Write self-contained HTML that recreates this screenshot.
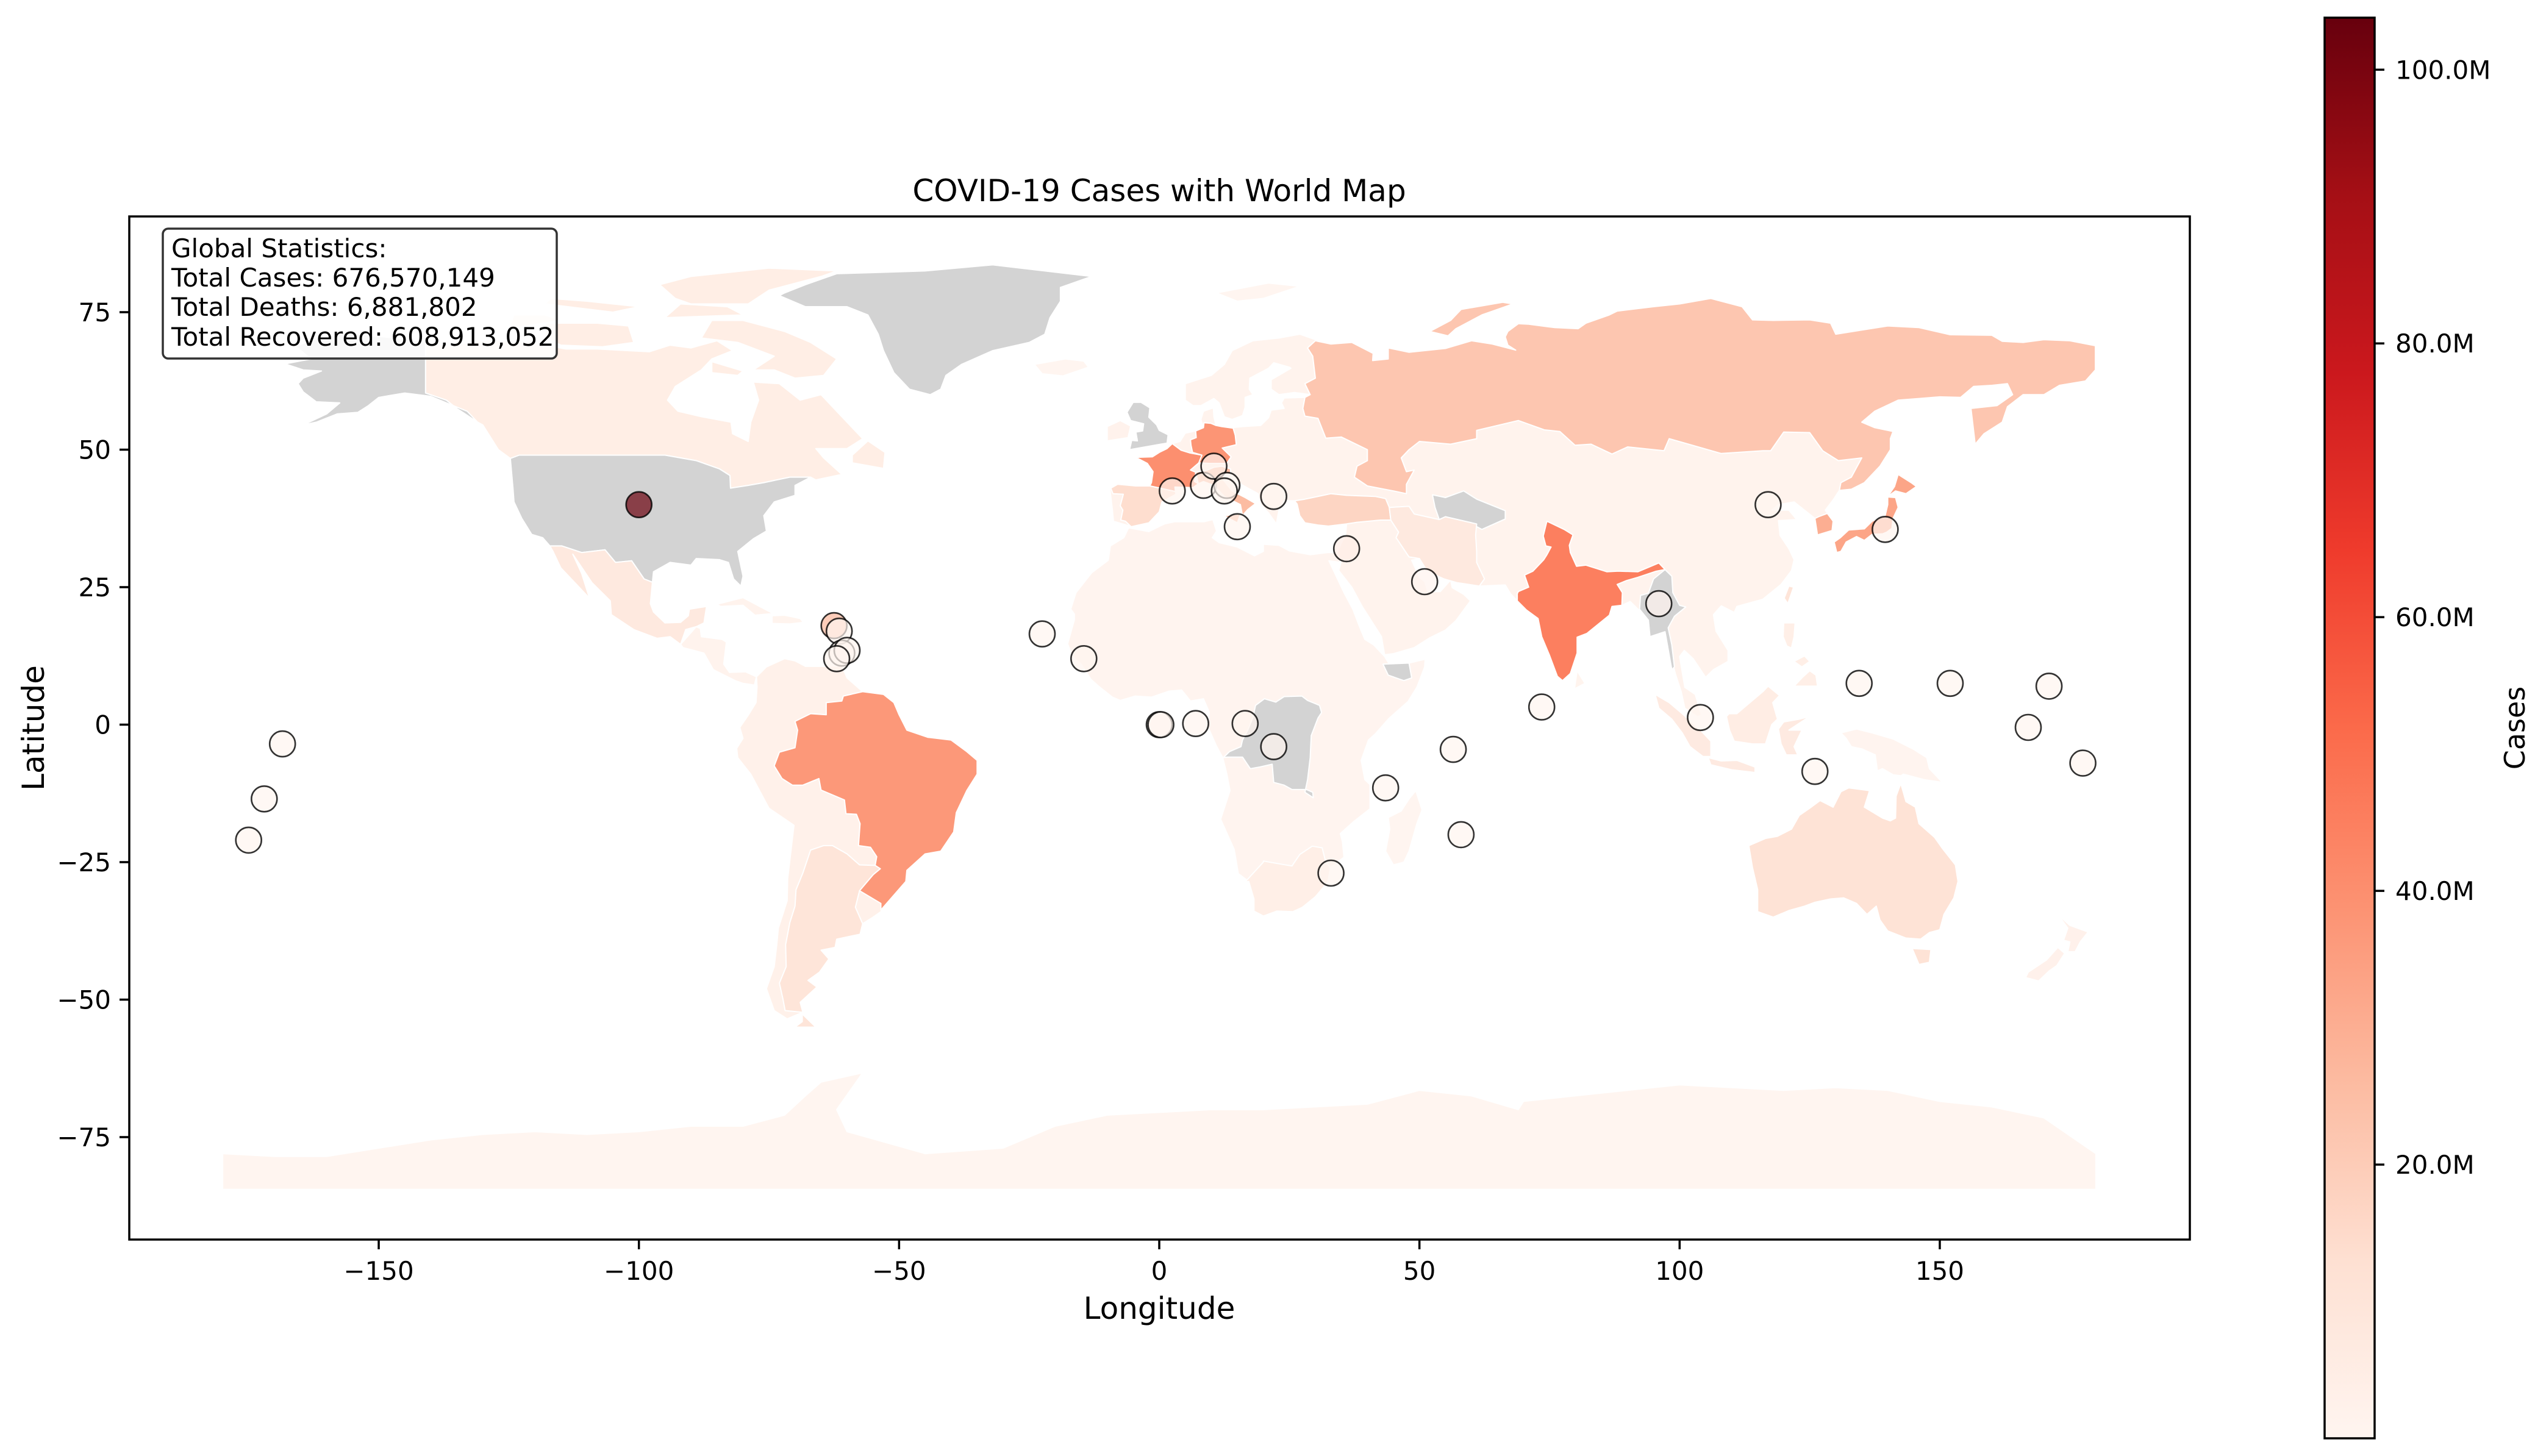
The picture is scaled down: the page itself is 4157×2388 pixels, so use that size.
<!DOCTYPE html>
<html><head><meta charset="utf-8">
<style>
html,body{margin:0;padding:0;background:#fff;}
svg{display:block;font-family:"DejaVu Sans","Liberation Sans",sans-serif;}
</style></head>
<body>
<svg id="chart" xmlns="http://www.w3.org/2000/svg" width="4157" height="2388" viewBox="0 0 4157 2388">
<rect x="0" y="0" width="4157" height="2388" fill="#fff"/>
<text x="1901" y="330" font-size="50" text-anchor="middle">COVID-19 Cases with World Map</text>
<defs>
<clipPath id="axclip"><rect x="212" y="355" width="3379" height="1678"/></clipPath>
<linearGradient id="cbgrad" x1="0" y1="1" x2="0" y2="0">
<stop offset="0" stop-color="#fff5f0"/><stop offset="0.125" stop-color="#fee0d2"/><stop offset="0.25" stop-color="#fcbba1"/><stop offset="0.375" stop-color="#fc9272"/><stop offset="0.5" stop-color="#fb6a4a"/><stop offset="0.625" stop-color="#ef3b2c"/><stop offset="0.75" stop-color="#cb181d"/><stop offset="0.875" stop-color="#a50f15"/><stop offset="1" stop-color="#67000d"/>
</linearGradient>
</defs>
<g id="map" clip-path="url(#axclip)"></g>
<g id="points" clip-path="url(#axclip)"></g>
<rect x="212" y="355" width="3379" height="1678" fill="none" stroke="#000" stroke-width="3.5"/>
<g id="axes"></g>
<g>
<rect x="267" y="375" width="646" height="213" rx="9" fill="#fff" fill-opacity="0.85" stroke="#333" stroke-width="3.5"/>
<text x="281" y="422" font-size="42">Global Statistics:</text>
<text x="281" y="470" font-size="42">Total Cases: 676,570,149</text>
<text x="281" y="518" font-size="42">Total Deaths: 6,881,802</text>
<text x="281" y="567" font-size="42">Total Recovered: 608,913,052</text>
</g>
<g id="colorbar">
<rect x="3812" y="29" width="82" height="2330" fill="url(#cbgrad)" stroke="#000" stroke-width="3.5"/>
</g>
<text x="0" y="0" font-size="46" text-anchor="middle" transform="translate(4140,1194) rotate(-90)">Cases</text>
<text x="1901" y="2163" font-size="50" text-anchor="middle">Longitude</text>
<text x="0" y="0" font-size="50" text-anchor="middle" transform="translate(72,1194) rotate(-90)">Latitude</text>
</svg>
<script>
// ---- data ----
const countryNames = ["Antarctica","Africa-other","DR Congo","South Africa","Somaliland","Madagascar","Eurasia-other","Russia","Turkmenistan","Turkey","Iran","India","Myanmar","Japan","Hokkaido","South Korea","France","Germany","Spain","Italy","Sicily","United Kingdom","Ireland","Iceland","Svalbard","Novaya Zemlya","Sri Lanka","Canada","Baffin Island","Victoria Island","Ellesmere Island","Banks Island","Devon Island","Melville Island","Southampton Island","Newfoundland","United States","Alaska","Greenland","Mexico","Central America","Cuba","Hispaniola","South America-other","Brazil","Argentina","Tierra del Fuego","Sumatra","Java","Borneo","Sulawesi","New Guinea","Luzon","Mindanao","Visayas","Taiwan","Australia","Tasmania","NZ North","NZ South"];
const countryCases = [0.01,0.5,null,4.0,null,0.07,1.5,22.0,null,17.0,7.5,45.0,null,33.0,33.0,30.0,40.0,38.0,13.8,25.6,25.6,null,1.7,0.2,0.01,22.0,0.67,4.6,4.6,4.6,4.6,4.6,4.6,4.6,4.6,4.6,null,null,null,7.5,1.2,1.1,0.9,2.5,37.0,10.0,10.0,6.7,6.7,5.0,6.7,0.5,4.0,4.0,4.0,9.9,11.4,11.4,2.2,2.2];
const pointLon = [-100,-62.5,-61.5,-61,-60,-62,-22.5,-14.5,0,0.3,7,16.5,22,2.5,8.5,10.5,13,12.5,15,22,36,51,56.5,43.5,58,33,73.5,96,104,117,139.5,134.5,126,152,171,167,177.5,-175,-172,-168.5];
const pointLat = [40,18,17,13,13.5,12,16.5,12,0,0,0.2,0.2,-4,42.5,43.5,47,43.5,42.5,36,41.5,32,26,-4.5,-11.5,-20,-27,3.2,22,1.3,40,35.5,7.5,-8.5,7.5,7,-0.5,-7,-21,-13.5,-3.5];
const pointCases = [103.4,27.0,0.01,0.05,0.1,0.04,0.06,0.04,0.01,0.01,0.02,0.03,0.05,0.05,0.03,0.03,0.02,0.02,0.12,0.3,4.8,0.6,0.05,0.01,0.3,0.07,0.19,0.6,0.3,0.2,0.1,0.01,0.02,0.03,0.01,0.01,0.02,0.02,0.02,0.01];
const xTicks = [-150,-100,-50,0,50,100,150];
const yTicks = [-75,-50,-25,0,25,50,75];
const cbTicks = [20,40,60,80,100];
const vMin = 0, vMax = 103.8;

// ---- geometry (lon/lat outlines) ----
const shapes = [
[[-180,-84.5],[180,-84.5],[180,-78],[170,-71.5],[165,-70.5],[160,-69.5],[150,-68.5],[140,-66.5],[130,-66],[120,-66.5],[110,-66],[100,-65.5],[90,-66.5],[80,-67.5],[70,-68.5],[69,-70],[60,-67.5],[50,-66.5],[40,-69],[30,-69.5],[20,-70],[10,-70],[0,-70.5],[-10,-71],[-20,-73],[-30,-77],[-45,-78],[-60,-74],[-62,-70],[-57,-63.3],[-65,-65],[-68,-67.5],[-72,-71],[-80,-73],[-90,-73],[-100,-74],[-110,-74.5],[-120,-74],[-130,-74.5],[-140,-75.5],[-150,-77],[-160,-78.5],[-170,-78.5],[-180,-78]],
[[-17,21],[-16,24],[-13,27.6],[-9.8,29.9],[-9.4,32.5],[-6.8,34],[-5.9,35.8],[-2,35.1],[1,36.5],[3,36.9],[8.6,36.9],[10.3,37.3],[11,35.2],[10.2,34],[11.5,33.1],[15,32.3],[18.3,30.7],[20,31.5],[20,32.8],[23,32.6],[25,31.6],[29,30.9],[32.3,31.3],[34.2,31.3],[34.9,29.5],[32.6,29.8],[35.5,24],[37.2,21],[38.4,18],[39.5,15.5],[41.2,14.5],[43.3,12.4],[44.6,10.4],[48,11.2],[51.1,11.9],[51,10.5],[49.5,6.8],[47.8,4.2],[44.1,1.1],[41.5,-1.7],[40.2,-2.8],[38.8,-6.5],[39.5,-10],[40.5,-10.9],[40.5,-15.3],[37.4,-17.6],[34.8,-19.8],[35.2,-21.3],[35.5,-24.1],[32.9,-26],[32.4,-28.6],[30,-31.3],[27.5,-33.2],[25.7,-34],[22.6,-33.9],[20,-34.8],[18.2,-33.9],[18.2,-31.7],[17.2,-28.5],[15.2,-27.1],[14.4,-22.7],[11.8,-17.2],[13.6,-12],[13,-9],[12.2,-6],[11,-3.9],[9.4,-0.5],[9.6,2.3],[8.5,4.7],[6,4.3],[4.3,6.3],[1.9,6.1],[-1.5,5],[-4.6,5.2],[-7.5,4.4],[-9,5],[-11.4,6.8],[-13.1,8.2],[-15,11],[-16.7,12.4],[-17.6,14.7],[-16.3,19.1],[-16.3,20.1]],
[[12.3,-6],[13,-5.9],[16,-5.9],[17.5,-8],[19.3,-7.7],[21.7,-7.2],[22,-10.5],[24,-11],[25.5,-11.8],[28.3,-11.8],[29.5,-12.3],[29.6,-13.3],[28,-12.3],[28.5,-10],[29,-6],[29.2,-2],[30.5,1.2],[31.2,2.2],[30.8,3.5],[28.5,4.4],[27.4,5.2],[24,5.1],[22.4,4.1],[20.2,4.7],[18.5,3.5],[18,1.3],[17,-1],[16,-2.8],[15.7,-4],[13.5,-4.9]],
[[16.5,-28.6],[20,-25],[20,-24.8],[23,-25.3],[25.5,-25.7],[27,-23.6],[29.4,-22.1],[31.3,-22.4],[32,-25],[32.9,-26],[32.4,-28.6],[30,-31.3],[27.5,-33.2],[25.7,-34],[22.6,-33.9],[20,-34.8],[18.2,-33.9],[18.2,-31.7],[17.2,-28.5]],
[[43,11],[48,11.2],[48.5,8.5],[47,8],[44,9]],
[[49.3,-12],[50.5,-15.5],[49.5,-18],[48,-23],[47,-25],[45,-25.5],[43.5,-23],[44.3,-19],[44,-16.9],[46.5,-15.7],[48,-13.5]],
[[-9.5,43],[-9,39],[-8.8,37],[-6,36.2],[-2,36.7],[0,38.7],[0.5,40.5],[3.2,41.9],[3,43.2],[6.5,43.1],[8.5,44.2],[10.5,43.5],[12.5,41.5],[15.6,40],[16,38],[17,39.1],[18.5,40.2],[16.5,41.3],[14,42.5],[12.3,44.5],[12.5,45.6],[13.7,45.5],[15.5,43.8],[19,42],[19.5,40],[21,38.5],[22.5,36.5],[23,39],[24,40.7],[26,40.7],[26.5,40.1],[27,38],[28,36.7],[30.5,36.3],[36,36.5],[35.8,34.5],[35,33],[34.2,31.3],[34.9,29.5],[34.5,28],[37,25],[39,21.5],[42.7,16],[43.3,12.7],[45,12.9],[49,14],[52,15.8],[55,17.2],[57,18.9],[59.8,22.5],[58.5,23.7],[56.3,24.9],[56,26.3],[54,24.2],[51.6,24.2],[51,26],[50,26.8],[48.5,29.9],[50,30.2],[51.5,27.9],[54.7,26.5],[57.3,25.8],[61.5,25.2],[66.5,25.4],[67.5,23.8],[68.8,22.5],[70.5,20.9],[72.8,19.3],[73.5,16],[75,12.6],[76.5,8.8],[77.5,8],[79,9.3],[80.3,13],[80.3,15.9],[82.2,16.6],[86.5,19.9],[87,21.5],[88.9,21.7],[90.5,22.4],[92,21],[94,19],[94.3,16],[97.2,16.9],[98,13.5],[99.2,9.2],[100.3,6],[101,3],[103.5,1.4],[104.2,1.8],[103,5.5],[101,6.8],[100,12.4],[100.9,13.5],[102.6,12],[105,8.6],[106.5,10],[109.3,11.5],[109.3,13.5],[107,17],[106.5,20],[108,21.6],[110.5,20.4],[111,21.5],[116,22.8],[119.5,25.5],[121.5,28],[122,30],[121,32],[119.3,34.4],[119,37.1],[122.5,37.3],[121,39],[117.7,39],[119,40],[122,40.5],[126,37.5],[126.5,34.5],[129.3,35.3],[129.5,37],[128,39],[129.6,41],[130.7,42.6],[133,42.8],[135.5,44],[138.5,47],[140.5,50],[140.5,52],[141,53.3],[137.5,54],[135,55],[137.5,57],[142,59],[146,59.3],[150,59.6],[154,59.5],[156.5,61.5],[160,61.7],[163,62],[164,60],[161,58],[156,57.5],[156.8,51],[158.5,52.9],[162,55],[163,57.8],[166,60],[170,60],[173,61.7],[178,62.5],[179.9,64.5],[179.9,68.9],[175,69.8],[170,70],[166,69.5],[162,69.7],[160,70.8],[152,70.9],[146,72.2],[140,72.5],[130,71],[129,73],[125,73.6],[118,73.5],[114,73.6],[112,76],[106,77.5],[100,76.5],[95,76],[88,75.2],[86.5,74.5],[82,73],[80.5,72],[76,72.2],[71,72.8],[69,72.9],[67,71.5],[66.5,70.5],[67,69],[68.5,68.1],[64,69.2],[60,69.8],[55,68.4],[48,67.7],[44,68.5],[44,66.5],[41,66.2],[41.1,67.5],[37,69.5],[33,69.2],[30,70],[27,71],[23,70.3],[18,69.8],[14,68],[12.5,65.5],[10,63.5],[5,62],[5,59],[6.5,58],[8,58],[10.5,59.3],[11.5,58.5],[12.5,56],[14,55.5],[16,56.2],[16.5,57.7],[16.5,59.5],[18,60],[17.3,61],[17.4,63],[21,64.8],[22,65.8],[25,65],[25.3,64.8],[21.5,62.7],[21.5,61],[23,60],[26,60.4],[29,60],[28,59.5],[24,59.4],[23.5,58.5],[24,57.5],[21.5,57.2],[21,55.8],[19.5,54.4],[16,54.2],[14,54],[12,54.2],[10.9,54.4],[10.5,56],[10.4,57.6],[8.5,57],[8,55.5],[8.5,54],[7,53.4],[5,53],[4,51.5],[2.5,51.1],[1.5,50.2],[0,49.5],[-1.3,48.7],[-4.5,48.6],[-2.3,47.5],[-1.2,46],[-1.5,44],[-1.8,43.4],[-4.5,43.4],[-8,43.7]],
[[30,69.8],[33,69.2],[37,69.5],[41.1,67.5],[41,66.2],[44,66.5],[44,68.5],[48,67.7],[55,68.4],[60,69.8],[64,69.2],[68.5,68.1],[67,69],[66.5,70.5],[67,71.5],[69,72.9],[71,72.8],[76,72.2],[80.5,72],[82,73],[86.5,74.5],[88,75.2],[95,76],[100,76.5],[106,77.5],[112,76],[114,73.6],[118,73.5],[125,73.6],[129,73],[130,71],[140,72.5],[146,72.2],[152,70.9],[160,70.8],[162,69.7],[166,69.5],[170,70],[175,69.8],[179.9,68.9],[179.9,64.5],[178,62.5],[173,61.7],[170,60],[166,60],[163,57.8],[162,55],[158.5,52.9],[156.8,51],[156,57.5],[161,58],[164,60],[163,62],[160,61.7],[156.5,61.5],[154,59.5],[150,59.6],[146,59.3],[142,59],[137.5,57],[135,55],[137.5,54],[141,53.3],[140.5,52],[140.5,50],[138.5,47],[135.5,44],[133,42.8],[130.7,42.6],[131,44],[133,45],[135,48.5],[130.5,48],[127.5,49.8],[125,53.1],[120,53.2],[117.5,49.8],[116,49.8],[108,49.3],[98,52],[97,49.8],[90,50.5],[87,49.2],[83,51],[79.9,50.8],[77,53.3],[74,53.6],[69,55.3],[61,53.5],[61,52],[56,51],[50,51.5],[48,50],[46.5,48.5],[47.5,46],[49,46.3],[47.5,43.7],[47.5,42],[45,42.5],[40,43.4],[37.5,45],[38,47],[40,48],[40,50],[35,52.3],[32,52.1],[30.5,55.7],[28,56.1],[27.6,57.5],[28,59.5],[29,60],[28,62],[30,63],[29.5,67],[28.5,68.5]],
[[52.5,41.8],[55,41.3],[58.5,42.5],[61,41],[66.5,38.9],[66.5,37.4],[62,35.5],[60,36.5],[55,37.8],[53.8,37.3],[53,39.5]],
[[26,40.7],[26.5,40.1],[27,38],[28,36.7],[30.5,36.3],[32.5,36.1],[36,36.5],[38,36.8],[42.5,37.2],[44.5,37.2],[44.2,39.5],[43.5,41.1],[41.5,41.5],[36,41.7],[33,42],[29,41.2],[28,41]],
[[44.2,39.5],[44.5,37.2],[46,35],[45.5,34],[48,30.5],[50,30.2],[51.5,27.9],[54.7,26.5],[57.3,25.8],[61.5,25.2],[62.5,26.5],[61,29.5],[61,31.5],[60.8,34.5],[61,36.5],[55,37.8],[53.8,37.3],[49,38.3],[48,39.7]],
[[68.8,23.8],[68.8,22.5],[70.5,20.9],[72.8,19.3],[73.5,16],[75,12.6],[76.5,8.8],[77.5,8],[79,9.3],[80.3,13],[80.3,15.9],[82.2,16.6],[86.5,19.9],[87,21.5],[88.9,21.7],[89,24],[88,25.5],[89.8,26.2],[92,26.8],[95.5,27.9],[97.2,28.2],[96,29.4],[92,27.8],[88.2,27.9],[86,27.8],[82,29],[80.2,28.8],[79,31.3],[78.8,32.6],[79.5,34.5],[77.8,35.5],[74.5,37],[73.8,34.3],[74.3,32.5],[75.3,32.3],[74.5,30.9],[73.9,30],[71.8,27.9],[70.2,27.2],[71,25],[69,24.2]],
[[92.3,21],[92.5,23.5],[94,23.9],[95,26.5],[97.2,28.2],[98.5,27],[98.7,24],[100,21.7],[101.2,21.4],[99,19.7],[97.8,17.6],[98.5,14.5],[99,10.5],[98.5,10],[97.2,16.9],[94.3,16],[94,19]],
[[130.9,34],[132.5,35.4],[135.5,35.6],[137,37],[139.5,38],[140,40],[140,41.4],[141.5,41.3],[142,39.5],[141,37.5],[140.8,35.7],[139.8,35],[139,34.7],[137,34.6],[135.5,33.5],[134,34.2],[132,33.2],[131,31.5],[130.2,31.3],[129.7,33.2]],
[[140,41.5],[141.5,42.5],[143.5,42],[145.5,43.3],[144.5,44],[142,45.5],[141.3,43.3]],
[[126,37.5],[126.5,34.5],[129.3,35.3],[129.5,37],[128.4,38.4],[126.7,37.8]],
[[2.5,51.1],[4.2,49.9],[5.9,49.4],[8.2,49],[7.6,47.6],[6,46.3],[7,45.9],[6.8,44.2],[7.5,43.8],[6.5,43.1],[3,43.2],[3.1,42.4],[-1.8,43.4],[-1.5,44],[-1.2,46],[-2.3,47.5],[-4.5,48.6],[-1.3,48.7],[0,49.5],[1.5,50.2]],
[[6.1,50.8],[6.4,49.5],[8.2,49],[7.6,47.6],[9.6,47.5],[13,47.5],[13.8,48.7],[12.1,50.3],[14.8,50.9],[14.6,52.6],[14.2,53.9],[12,54.2],[10.9,54.4],[9.9,54.8],[8.6,54.9],[8.5,54],[7,53.4],[7.1,52.2],[6,51.8]],
[[-9.3,43],[-8,43.7],[-4.5,43.4],[-1.8,43.4],[3.1,42.4],[3.2,41.9],[0.5,40.5],[0,38.7],[-2,36.7],[-5.4,36],[-6.5,37],[-7.4,37.2],[-7,39],[-7.5,39.8],[-6.9,41.9],[-8.9,42]],
[[7.5,43.8],[8.5,44.2],[10.5,43.5],[12.5,41.5],[15.6,40],[16,38],[17,39.1],[18.5,40.2],[16.5,41.3],[14,42.5],[12.3,44.5],[12.5,45.6],[13.7,45.5],[13.7,46.5],[12,47],[10.5,46.8],[9,46.2],[7,45.9]],
[[12.4,38],[15.6,38.3],[15,36.7]],
[[-5.7,50],[1.5,51.2],[1.7,52.7],[0,53.5],[-0.5,54.5],[-2,55.9],[-1.8,57.6],[-3.5,58.6],[-5,58.6],[-6.2,56.8],[-5.5,55.3],[-3,54.7],[-3.2,53.4],[-4.5,53.2],[-4.2,51.6],[-5.3,51.7]],
[[-6,52.2],[-10,51.6],[-10,54.2],[-7.5,55.3],[-5.5,54.3]],
[[-24,65.5],[-18,66.5],[-14.5,66.1],[-13.6,65],[-18.5,63.4],[-22.5,63.8]],
[[11,78.5],[21,80.3],[27,79.7],[20,77.5],[15,77]],
[[52,71.5],[56,73.5],[58,75.5],[66,76.8],[68,76.5],[62,74.5],[57,72],[55.5,70.7]],
[[79.8,6.5],[81.8,7.5],[80.3,9.8]],
[[-141,69.6],[-136,68.9],[-129,70],[-121,69.5],[-114,68.3],[-108,68.3],[-98,67.8],[-94,69],[-90,68.5],[-85,69.8],[-82,68],[-86,66.5],[-88,64.5],[-93,61.5],[-94.5,59],[-92.5,57],[-88,56],[-82.3,55],[-82,52.9],[-79,51.5],[-78.5,55],[-77,59],[-78,62.3],[-73,62],[-69,59],[-65,60],[-61.5,56.5],[-57,52],[-60,50.2],[-66,50.2],[-64.5,48.5],[-61,45.5],[-66,44.5],[-67,45],[-71,45],[-76,44],[-79,43.5],[-82.4,43],[-82.5,45.3],[-84.5,46.5],[-89,48],[-95,49],[-123,49],[-124.7,48.4],[-127,50],[-130,54.5],[-131,55],[-135,57.5],[-137,59],[-141,60.3]],
[[-80,73.5],[-72,71.5],[-67,69.5],[-62,66.5],[-64.5,63.5],[-70,63],[-74,64.5],[-78,64.5],[-74,67],[-81,69.5],[-88,70.3],[-86,73.5]],
[[-118,73],[-108,73],[-102,72.5],[-101,69.5],[-107,68.7],[-115,69],[-118,70.5]],
[[-90,76.5],[-79,76.5],[-75,79],[-65,81.5],[-62,82.5],[-75,83],[-90,81.5],[-96,80],[-93,77.5]],
[[-125,72],[-115,73.5],[-118,74.5],[-124,74.5]],
[[-95,74],[-80,74.5],[-83,76],[-92,76.5]],
[[-118,76.5],[-105,75],[-100,76],[-110,77],[-117,77.5]],
[[-86,64],[-81,63.5],[-80,64.3],[-86,66]],
[[-59,47.6],[-53,46.6],[-52.7,49.5],[-56,51.6],[-59,49]],
[[-124.7,48.4],[-123,49],[-95,49],[-89,48],[-84.5,46.5],[-82.5,45.3],[-82.4,43],[-79,43.5],[-76,44],[-71,45],[-67,45],[-70,43.5],[-70,41.7],[-74,40.5],[-76,38],[-75.5,35.2],[-78,33.8],[-81,31.5],[-80,27],[-80.4,25.2],[-81.8,26.5],[-82.8,29.5],[-84.5,30],[-89,30.2],[-90,29],[-94,29.5],[-97.2,27.8],[-97.4,25.9],[-99,26.5],[-101.4,29.8],[-104.5,29.5],[-106.5,31.8],[-111,31.3],[-114.8,32.5],[-117.1,32.5],[-118.5,34],[-120.6,34.6],[-122.5,37.5],[-124,40.5],[-124.2,43]],
[[-141,69.6],[-141,60.3],[-137,59],[-135,57.5],[-131,55],[-133,57],[-137,58.5],[-140,59.7],[-145,60.3],[-150,59.5],[-152,58],[-154,56.8],[-158,56.5],[-162,55],[-164.5,54.5],[-160,56.5],[-157.5,58.5],[-162,58.7],[-164.5,60.5],[-165.5,62],[-164.5,63],[-161,64.3],[-164.5,64.5],[-168,65.6],[-163,66.5],[-166,68.8],[-162,70.2],[-156.5,71.3],[-152,70.8],[-146,70.2]],
[[-73,78],[-68,76],[-60,76],[-56,74.5],[-54,71],[-53,68],[-51,64],[-48,61],[-44,60],[-42,61],[-41,63.5],[-38,65.5],[-32,68],[-25,69.5],[-22,71],[-21,74],[-19,77],[-19,79.5],[-13,81.5],[-22,82.5],[-32,83.6],[-45,82.5],[-55,82.2],[-62,82],[-68,80],[-72,78.5]],
[[-117.1,32.5],[-114.8,32.5],[-111,31.3],[-106.5,31.8],[-104.5,29.5],[-101.4,29.8],[-99,26.5],[-97.4,25.9],[-97.8,22],[-97.2,20.5],[-95,18.5],[-92,18.6],[-90.5,19.8],[-90.3,21],[-87,21.5],[-87.5,18.5],[-89,17.8],[-91,17.3],[-92,14.6],[-94,16],[-96.5,15.7],[-101,17.3],[-105.3,20],[-105.5,22.5],[-109,25.8],[-112.7,31],[-111,27.5],[-109.5,23],[-110.5,24],[-112,25.5],[-115,28.5],[-116.5,31.5]],
[[-92,14.6],[-89,17.8],[-88.2,17.5],[-88,16],[-84,15.5],[-83.2,15],[-83.7,11],[-82.6,9.5],[-79.5,9.6],[-77.4,8.7],[-77.8,7.2],[-80,7.5],[-81.5,8],[-85.7,10],[-87.5,13],[-91.5,14]],
[[-85,21.9],[-80,23.1],[-76,21.1],[-74.2,20.2],[-77.7,19.9],[-80,21.7],[-84.3,21.5]],
[[-74.4,19.8],[-72,19.9],[-69,19.3],[-68.4,18.6],[-71,18.3],[-74.4,18.4]],
[[-77.4,8.7],[-75.5,10.5],[-72,12],[-70,11.6],[-68,10.6],[-64,10.6],[-61,10.7],[-60,8.5],[-57,6],[-53,5.5],[-51,4],[-50,1.8],[-48.5,-1],[-44.5,-2.3],[-40,-2.8],[-37,-4.9],[-35,-6.5],[-35,-9],[-37,-12],[-39,-16],[-39.5,-19.5],[-42,-23],[-45,-23.5],[-48.5,-26.5],[-48.7,-28.5],[-51,-31],[-53.5,-34],[-55,-35],[-57,-36.2],[-57.5,-38.1],[-62,-39],[-62.3,-40.5],[-65,-41],[-63.5,-42.6],[-65.3,-45],[-67.5,-46.5],[-65.8,-47.7],[-69,-50.5],[-68.5,-52.3],[-71.5,-53.5],[-74,-52],[-75.5,-48],[-74,-44],[-73.5,-40],[-73.2,-37],[-71.5,-32],[-71.4,-28],[-70.2,-18.3],[-75,-15.2],[-78.5,-9],[-81,-6],[-81.2,-4.3],[-80,-2.5],[-80.6,-0.5],[-79,1.7],[-77.5,4],[-77.3,6.8]],
[[-60.7,5.2],[-57,6],[-53,5.5],[-51,4],[-50,1.8],[-48.5,-1],[-44.5,-2.3],[-40,-2.8],[-37,-4.9],[-35,-6.5],[-35,-9],[-37,-12],[-39,-16],[-39.5,-19.5],[-42,-23],[-45,-23.5],[-48.5,-26.5],[-48.7,-28.5],[-51,-31],[-53.5,-33.7],[-53.5,-32.5],[-57.6,-30.2],[-55,-27.3],[-54.6,-25.6],[-54.3,-24],[-55.5,-22.3],[-57.8,-22],[-57.5,-18],[-58.2,-16.3],[-60.2,-16.2],[-60.5,-13.7],[-65,-11.9],[-65.4,-9.8],[-68.5,-11],[-70.5,-11],[-72.5,-9.8],[-74,-7.5],[-73,-5],[-70,-4.2],[-69.5,-1],[-70,0.6],[-67,2],[-64,1.8],[-64,4],[-61,4.3]],
[[-53.6,-26.2],[-55,-27.3],[-57.6,-30.2],[-58.4,-33.2],[-57,-36.2],[-57.5,-38.1],[-62,-39],[-62.3,-40.5],[-65,-41],[-63.5,-42.6],[-65.3,-45],[-67.5,-46.5],[-65.8,-47.7],[-69,-50.5],[-68.5,-52.3],[-71.9,-52],[-72.3,-50],[-73,-47],[-71.7,-44],[-71.8,-40],[-71,-36],[-70,-33],[-69.8,-30],[-68.5,-27],[-67,-22.8],[-64.5,-22],[-62.8,-22],[-60,-23.5],[-57.6,-25.5],[-54.6,-25.6]],
[[-68.6,-52.6],[-66,-55],[-70,-55],[-68.6,-54]],
[[95.3,5.5],[98,4],[100.5,2],[104,-1],[106,-3],[106,-5.8],[104.5,-5.8],[102,-4],[100.5,-1.5],[98.5,1],[96,3]],
[[105.5,-6],[108,-6.6],[111,-6.5],[114.5,-7.7],[114.5,-8.7],[110,-8.2],[106,-7.3]],
[[109,1.5],[109.6,-1],[110.5,-3],[114,-3.5],[116.5,-3.5],[117.7,0],[118.8,1],[117.9,4],[119.2,5.3],[117,7],[116,6],[113.5,4],[111,2],[109.5,2]],
[[119,-0.8],[120,0.5],[123,1],[125,1.5],[121,-1],[123.5,-1],[122,-4],[122.7,-5.5],[120.5,-5.5],[119.5,-3.5]],
[[131,-1.5],[134,-0.8],[137,-1.5],[141,-2.6],[145,-4.5],[147.5,-6],[148,-8],[150.5,-10.5],[147,-10],[143,-9],[142.5,-9.3],[141,-9.1],[139,-8],[138,-8.4],[137.6,-5.5],[135,-4.4],[133,-4],[132,-2.5]],
[[120,18.5],[122.2,18.5],[122,16],[121.5,14],[124,13],[122.5,13.5],[120.6,14.3],[119.9,16]],
[[122,7],[126.5,7],[126.2,9],[125,9.8],[123.6,8.6]],
[[123.5,10.5],[125,11.5],[124,12.5],[122,11.5]],
[[120.1,23],[121,25.2],[121.9,25],[120.8,22]],
[[113.3,-22],[114,-26],[115,-30],[115,-34],[118,-35],[121,-33.8],[124,-33],[126,-32.3],[129,-31.7],[131.5,-31.5],[134,-32.5],[136,-34.5],[137.8,-33],[138.5,-35.5],[140,-37.5],[143.5,-38.8],[146.3,-39],[148,-37.8],[150,-37.3],[150.8,-34.5],[152.7,-31.5],[153.5,-28.5],[153,-25.5],[150.5,-22.5],[149,-20.5],[146,-18],[145.3,-15],[143.5,-14],[142.5,-10.7],[141.6,-13],[141.5,-17],[140.5,-17.5],[139,-17],[135.5,-15],[136.5,-12],[132.5,-11.5],[131,-12.2],[129.5,-15],[127,-13.8],[125,-15.2],[123,-16.5],[121.5,-19],[118.8,-20.3],[116.5,-20.7]],
[[144.7,-40.7],[148.3,-40.9],[148,-43.2],[146,-43.6]],
[[172.7,-34.5],[175,-36.5],[178.5,-37.7],[177,-39.5],[176,-41.3],[174.6,-41.3],[175,-39.5],[173.8,-39.2],[174.6,-37]],
[[172.7,-40.5],[174,-41.6],[172.5,-43.8],[171,-44.8],[169,-46.6],[166.5,-46],[167,-45],[170.5,-42.8]]
];

// ---- scales ----
const X0 = 1901, KX = 8.533, Y0 = 1188.5, KY = 9.02;
function xs(lon){ return X0 + lon*KX; }
function ys(lat){ return Y0 - lat*KY; }
const CB_TOP = 29, CB_BOT = 2359;
function cbY(v){ return CB_BOT - (v - vMin)/(vMax - vMin)*(CB_BOT - CB_TOP); }
const redsStops = ["#fff5f0","#fee0d2","#fcbba1","#fc9272","#fb6a4a","#ef3b2c","#cb181d","#a50f15","#67000d"];
function hex2rgb(h){ return [parseInt(h.substr(1,2),16),parseInt(h.substr(3,2),16),parseInt(h.substr(5,2),16)]; }
function reds(v){
  let t = (v - vMin)/(vMax - vMin); t = Math.max(0, Math.min(1, t));
  const p = t*(redsStops.length-1); const i = Math.min(Math.floor(p), redsStops.length-2); const f = p - i;
  const a = hex2rgb(redsStops[i]), b = hex2rgb(redsStops[i+1]);
  return "rgb(" + a.map((c,k)=>Math.round(c + (b[k]-c)*f)).join(",") + ")";
}
const NS = "http://www.w3.org/2000/svg";
const mapG = document.getElementById("map");
for (let i = 0; i < shapes.length; i++) {
  const p = document.createElementNS(NS, "path");
  const d = shapes[i].map((pt,j)=> (j?"L":"M") + xs(pt[0]).toFixed(1) + "," + ys(pt[1]).toFixed(1)).join("") + "Z";
  p.setAttribute("d", d);
  const v = countryCases[i];
  p.setAttribute("fill", v === null ? "#d3d3d3" : reds(v));
  p.setAttribute("stroke", "#ffffff");
  p.setAttribute("stroke-width", "2");
  p.setAttribute("stroke-linejoin", "round");
  
  
  mapG.appendChild(p);
}
const ptG = document.getElementById("points");
for (let i = 0; i < pointLon.length; i++) {
  const c = document.createElementNS(NS, "circle");
  c.setAttribute("cx", xs(pointLon[i]).toFixed(1));
  c.setAttribute("cy", ys(pointLat[i]).toFixed(1));
  c.setAttribute("r", "21");
  c.setAttribute("fill", reds(pointCases[i]));
  c.setAttribute("fill-opacity", "0.7");
  c.setAttribute("stroke", "#000");
  c.setAttribute("stroke-opacity", "0.8");
  c.setAttribute("stroke-width", "2.6");
  
  
  ptG.appendChild(c);
}
const axG = document.getElementById("axes");
for (const t of xTicks) {
  const x = xs(t);
  const l = document.createElementNS(NS, "line");
  l.setAttribute("x1", x); l.setAttribute("x2", x); l.setAttribute("y1", 2033); l.setAttribute("y2", 2049);
  l.setAttribute("stroke", "#000"); l.setAttribute("stroke-width", "3.5");
  
  
  axG.appendChild(l);
  const tx = document.createElementNS(NS, "text");
  tx.setAttribute("x", x); tx.setAttribute("y", 2099); tx.setAttribute("font-size", "42"); tx.setAttribute("text-anchor", "middle");
  tx.textContent = t < 0 ? "\u2212" + Math.abs(t) : String(t);
  
  
  axG.appendChild(tx);
}
for (const t of yTicks) {
  const y = ys(t);
  const l = document.createElementNS(NS, "line");
  l.setAttribute("x1", 196); l.setAttribute("x2", 212); l.setAttribute("y1", y); l.setAttribute("y2", y);
  l.setAttribute("stroke", "#000"); l.setAttribute("stroke-width", "3.5");
  
  
  axG.appendChild(l);
  const tx = document.createElementNS(NS, "text");
  tx.setAttribute("x", 182); tx.setAttribute("y", y + 15); tx.setAttribute("font-size", "42"); tx.setAttribute("text-anchor", "end");
  tx.textContent = t < 0 ? "\u2212" + Math.abs(t) : String(t);
  
  
  axG.appendChild(tx);
}
const cbG = document.getElementById("colorbar");
for (const t of cbTicks) {
  const y = cbY(t);
  const l = document.createElementNS(NS, "line");
  l.setAttribute("x1", 3894); l.setAttribute("x2", 3910); l.setAttribute("y1", y); l.setAttribute("y2", y);
  l.setAttribute("stroke", "#000"); l.setAttribute("stroke-width", "3.5");
  
  
  cbG.appendChild(l);
  const tx = document.createElementNS(NS, "text");
  tx.setAttribute("x", 3928); tx.setAttribute("y", y + 15); tx.setAttribute("font-size", "42");
  tx.textContent = t.toFixed(1) + "M";
  
  
  cbG.appendChild(tx);
}
</script>
</body></html>
